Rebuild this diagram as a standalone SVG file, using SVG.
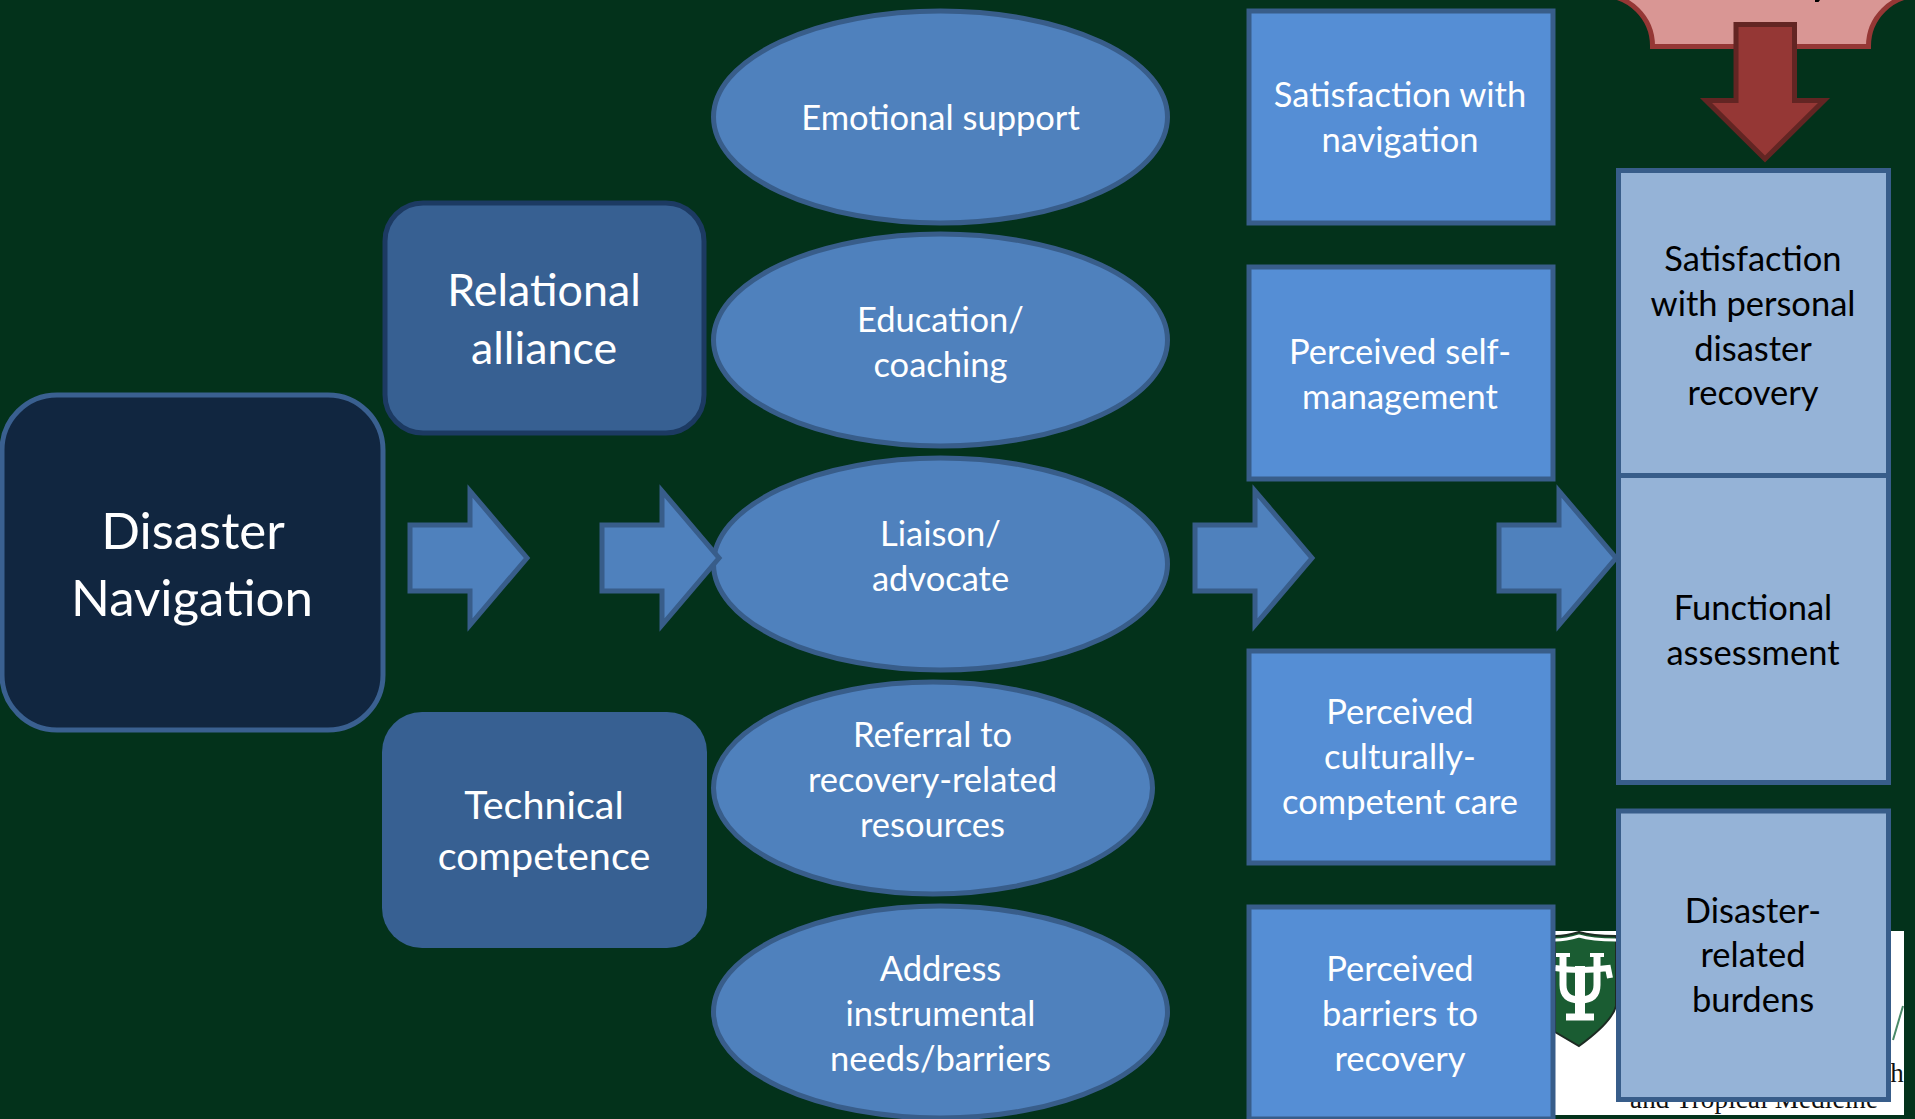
<svg xmlns="http://www.w3.org/2000/svg" width="1915" height="1119" viewBox="0 0 1915 1119">
<style>
text{font-family:"Lato","Open Sans",sans-serif;text-anchor:middle;fill:#fff}
.s{font-size:34.500px}
.k{fill:#000}
.ell{fill:#4f81bd;stroke:#385d8a;stroke-width:5}
.box{fill:#558ed5;stroke:#385d8a;stroke-width:5}
.out{fill:#95b3d7;stroke:#385d8a;stroke-width:5}
.arr{fill:#4f81bd;stroke:#385d8a;stroke-width:5;stroke-miterlimit:10}
</style>
<rect width="1915" height="1119" fill="#03321b"/>
<g id="logo">
<rect x="1555" y="931" width="349" height="184" fill="#fff"/>
<path d="M1555 936Q1566 936 1579 932Q1592 936 1616 936V1006Q1612 1022 1579 1046L1555 1032Z" fill="#1a5c32" stroke="#1c2b22" stroke-width="2"/>
<path d="M1555 940Q1566 940 1579 936Q1592 940 1616 940" fill="none" stroke="#fff" stroke-width="3"/>
<path d="M1556 955H1570M1590 955H1604" stroke="#fff" stroke-width="4" fill="none"/>
<path d="M1563 955V985Q1563 1000 1580 1000Q1597 1000 1597 985V955" fill="none" stroke="#fff" stroke-width="7"/>
<path d="M1555 968Q1580 972 1608 968L1610 978" fill="none" stroke="#fff" stroke-width="6"/>
<path d="M1580 966V1014" stroke="#fff" stroke-width="10" fill="none"/>
<path d="M1566 1017H1594" stroke="#fff" stroke-width="7" fill="none"/>
<path d="M1893 1040L1903 1006" stroke="#4a8a68" stroke-width="2" fill="none"/>
<text x="1897" y="1082" style="font-family:'Liberation Serif',serif;font-size:27px;fill:#111">h</text>
<text x="1754" y="1108" style="font-family:'Liberation Serif',serif;font-size:27px;fill:#111" textLength="248">and Tropical Medicine</text>
</g>
<g id="plaque">
<path d="M1601 -4.800A50.800 50.800 0 0 1 1652.500 46.500H1868.500A50.800 50.800 0 0 1 1919.500 -4.800Z" fill="#d99694" stroke="#953735" stroke-width="5"/>
<path d="M1815 0H1820L1818.500 2H1815Z" fill="#000"/>
</g>
<g id="n-navigation">
<rect x="2" y="395" width="381" height="335" rx="55" fill="#112640" stroke="#3a6090" stroke-width="5"/>
<text x="193" y="549" style="font-size:51px">Disaster</text>
<text x="192" y="616" style="font-size:51px">Navigation</text>
</g>
<g id="n-relational">
<rect x="385" y="203" width="319" height="230" rx="38" fill="#376092" stroke="#1c3a62" stroke-width="5"/>
<text x="544" y="306" style="font-size:44.800px">Relational</text>
<text x="544" y="364" style="font-size:44.800px">alliance</text>
</g>
<g id="n-technical">
<rect x="382" y="712" width="325" height="236" rx="40" fill="#376092"/>
<text x="544" y="819" style="font-size:39.500px">Technical</text>
<text x="544" y="870" style="font-size:39.500px">competence</text>
</g>
<g id="n-emotional"><ellipse class="ell" cx="940.500" cy="117" rx="227" ry="106"/><text class="s" x="940.500" y="130">Emotional support</text></g>
<g id="n-education"><ellipse class="ell" cx="940.500" cy="340" rx="227" ry="106"/><text class="s" x="940.500" y="332">Education/</text><text class="s" x="940.500" y="377">coaching</text></g>
<g id="n-liaison"><ellipse class="ell" cx="940.500" cy="564" rx="227" ry="106"/><text class="s" x="940.500" y="546">Liaison/</text><text class="s" x="940.500" y="591">advocate</text></g>
<g id="n-referral"><ellipse class="ell" cx="933" cy="788" rx="219.500" ry="106"/><text class="s" x="932.500" y="747">Referral to</text><text class="s" x="932.500" y="792">recovery-related</text><text class="s" x="932.500" y="837">resources</text></g>
<g id="n-address"><ellipse class="ell" cx="940.500" cy="1012" rx="227" ry="106"/><text class="s" x="940.500" y="981">Address</text><text class="s" x="940.500" y="1026">instrumental</text><text class="s" x="940.500" y="1071">needs/barriers</text></g>
<g id="n-satisfaction"><rect class="box" x="1249" y="11" width="304" height="212"/><text class="s" x="1400" y="107">Satisfaction with</text><text class="s" x="1400" y="152">navigation</text></g>
<g id="n-self"><rect class="box" x="1249" y="267" width="304" height="212"/><text class="s" x="1400" y="364">Perceived self-</text><text class="s" x="1400" y="409">management</text></g>
<g id="n-cultural"><rect class="box" x="1249" y="651" width="304" height="212"/><text class="s" x="1400" y="724">Perceived</text><text class="s" x="1400" y="769">culturally-</text><text class="s" x="1400" y="814">competent care</text></g>
<g id="n-barriers"><rect class="box" x="1249" y="907" width="304" height="212"/><text class="s" x="1400" y="981">Perceived</text><text class="s" x="1400" y="1026">barriers to</text><text class="s" x="1400" y="1071">recovery</text></g>
<g id="n-personal"><rect class="out" x="1618.500" y="170.500" width="270" height="305"/><text class="s k" x="1753" y="271">Satisfaction</text><text class="s k" x="1753" y="316">with personal</text><text class="s k" x="1753" y="361">disaster</text><text class="s k" x="1753" y="405">recovery</text></g>
<g id="n-functional"><rect class="out" x="1618.500" y="475.500" width="270" height="307"/><text class="s k" x="1753" y="620">Functional</text><text class="s k" x="1753" y="665">assessment</text></g>
<g id="n-burdens"><rect class="out" x="1618.500" y="811" width="270" height="288.500"/><text class="s k" x="1753" y="923">Disaster-</text><text class="s k" x="1753" y="967">related</text><text class="s k" x="1753" y="1012">burdens</text></g>
<g id="connectors">
<path class="arr" d="M410 525H470V491L527 558L470 625V591H410Z"/>
<path class="arr" d="M602 525H662V491L719 558L662 625V591H602Z"/>
<path class="arr" d="M1195 525H1255V491L1312 558L1255 625V591H1195Z"/>
<path class="arr" d="M1499 525H1559V491L1616 558L1559 625V591H1499Z"/>
<path d="M1736 24.500H1794.500V100.500H1824L1765 159L1706 100.500H1736Z" fill="#953735" stroke="#632523" stroke-width="5" stroke-miterlimit="10"/>
</g>
</svg>
